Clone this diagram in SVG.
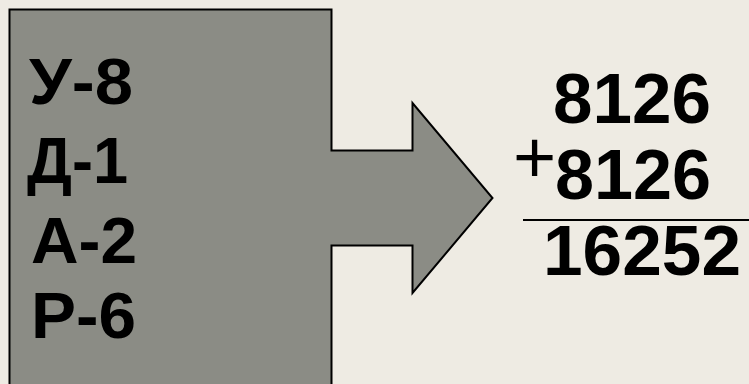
<svg xmlns="http://www.w3.org/2000/svg" width="749" height="384" viewBox="0 0 749 384">
<style>
.t{font-family:"Liberation Sans",Arial,sans-serif;font-weight:bold;fill:#000}
.l{font-size:64px}
.r{font-size:70px}
</style>
<rect width="749" height="384" fill="#EEEBE3"/>
<g id="block">
<path d="M9.5,9.5 H331.5 V150.5 H412.5 V103 L492.5,198 L412.5,293 V245.5 H331.5 V392 H9.5 Z" fill="#8B8C85" stroke="#000" stroke-width="2"/>
<text class="t l" x="29" y="104" textLength="104" lengthAdjust="spacingAndGlyphs">У-8</text>
<text class="t l" x="27" y="183" textLength="101" lengthAdjust="spacingAndGlyphs">Д-1</text>
<text class="t l" x="31" y="263" textLength="106" lengthAdjust="spacingAndGlyphs">А-2</text>
<text class="t l" x="31" y="338" textLength="105" lengthAdjust="spacingAndGlyphs">Р-6</text>
</g>
<g id="sum">
<text class="t r" x="553" y="123" textLength="158" lengthAdjust="spacingAndGlyphs">8126</text>
<text x="513" y="183" font-family="Liberation Sans, Arial, sans-serif" font-size="74" fill="#000">+</text>
<text class="t r" x="555" y="199" textLength="156" lengthAdjust="spacingAndGlyphs">8126</text>
<line x1="523" y1="220" x2="749" y2="220" stroke="#000" stroke-width="2"/>
<text class="t r" x="543" y="275" textLength="198" lengthAdjust="spacingAndGlyphs">16252</text>
</g>
</svg>
